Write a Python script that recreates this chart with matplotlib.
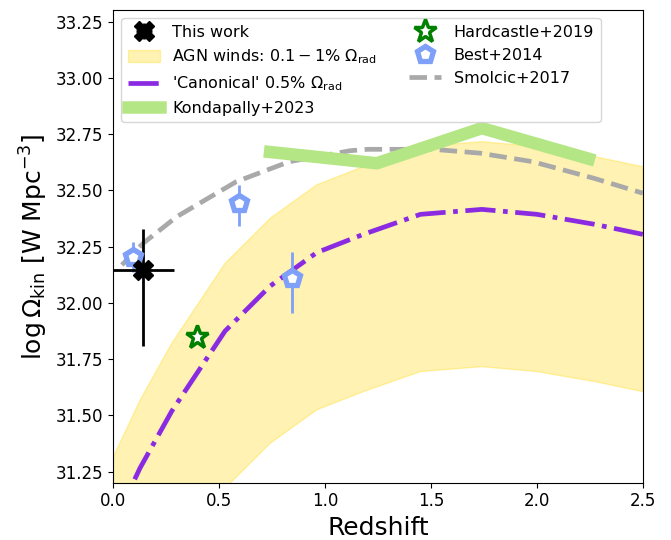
import numpy as np
import matplotlib
matplotlib.use('Agg')
import matplotlib.pyplot as plt

# AGN wind band (0.1% and 1% of radiative output) and canonical 0.5% curve
z_band = [0.0, 0.126, 0.276, 0.527, 0.74, 0.96, 1.18, 1.45, 1.74, 2.0, 2.27, 2.5]
band_hi = [31.315, 31.567, 31.82, 32.175, 32.375, 32.524, 32.605, 32.694, 32.716, 32.694, 32.65, 32.605]
band_lo = [30.315, 30.567, 30.82, 31.175, 31.375, 31.524, 31.605, 31.694, 31.716, 31.694, 31.65, 31.605]
canonical = [31.014, 31.266, 31.519, 31.874, 32.074, 32.223, 32.304, 32.393, 32.415, 32.393, 32.349, 32.304]

# Smolcic+2017
z_smolcic = [0.04, 0.14, 0.3, 0.58, 0.83, 1.12, 1.2, 1.51, 1.73, 1.98, 2.27, 2.5]
om_smolcic = [32.168, 32.264, 32.383, 32.538, 32.627, 32.676, 32.682, 32.682, 32.665, 32.627, 32.553, 32.487]

# Kondapally+2023
z_konda = [0.74, 1.244, 1.74, 2.245]
om_konda = [32.67, 32.62, 32.776, 32.64]

# Best+2014
z_best = [0.094, 0.595, 0.842]
om_best = [32.205, 32.442, 32.108]
best_err_lo = [0.07, 0.10, 0.155]
best_err_hi = [0.065, 0.08, 0.116]

# Hardcastle+2019
z_hc = [0.397]
om_hc = [31.846]

# this work
z_tw = [0.142]
om_tw = [32.145]
tw_xerr = [0.142]
tw_err_lo = [0.335]
tw_err_hi = [0.182]

fig = plt.figure(figsize=(6.71, 5.4), dpi=100)
ax = fig.add_axes([0.169, 0.106, 0.789, 0.875])

ax.fill_between(z_band, band_lo, band_hi, color='gold', alpha=0.3,
                label=r'AGN winds: $0.1-1\%\ \Omega_{\rm rad}$')
ax.plot(z_band, canonical, color='blueviolet', lw=3.4, ls='-.',
        label=r"'Canonical' 0.5% $\Omega_{\rm rad}$")
ax.plot(z_smolcic, om_smolcic, color='darkgray', lw=3.4, ls='--', label='Smolcic+2017')
ax.plot(z_konda, om_konda, color='#b5e685', lw=9, label='Kondapally+2023')

ax.errorbar(z_best, om_best, yerr=[best_err_lo, best_err_hi], fmt='p', ms=12,
            mfc='white', mec='#7fa0f8', mew=3.8, ecolor='#7fa0f8', elinewidth=2,
            label='Best+2014')
ax.plot(z_hc, om_hc, '*', ms=17, mfc='white', mec='green', mew=2.5, label='Hardcastle+2019')
ax.errorbar(z_tw, om_tw, xerr=tw_xerr, yerr=[tw_err_lo, tw_err_hi], fmt='X', ms=15,
            color='black', elinewidth=2, label='This work')

handles, labels = ax.get_legend_handles_labels()
order = ['This work', r'AGN winds: $0.1-1\%\ \Omega_{\rm rad}$',
         r"'Canonical' 0.5% $\Omega_{\rm rad}$", 'Kondapally+2023',
         'Hardcastle+2019', 'Best+2014', 'Smolcic+2017']
hmap = dict(zip(labels, handles))
ax.legend([hmap[k] for k in order], order, loc='upper left', ncol=2, fontsize=11.5)

ax.set_xlim(0, 2.5)
ax.set_ylim(31.2, 33.3)
ax.set_yticks([31.25, 31.5, 31.75, 32.0, 32.25, 32.5, 32.75, 33.0, 33.25])
ax.tick_params(labelsize=12)
ax.set_xlabel('Redshift', fontsize=18)
ax.set_ylabel(r'$\log \Omega_{\rm kin}$ [W Mpc$^{-3}$]', fontsize=18)

fig.savefig('out.png', dpi=100)
